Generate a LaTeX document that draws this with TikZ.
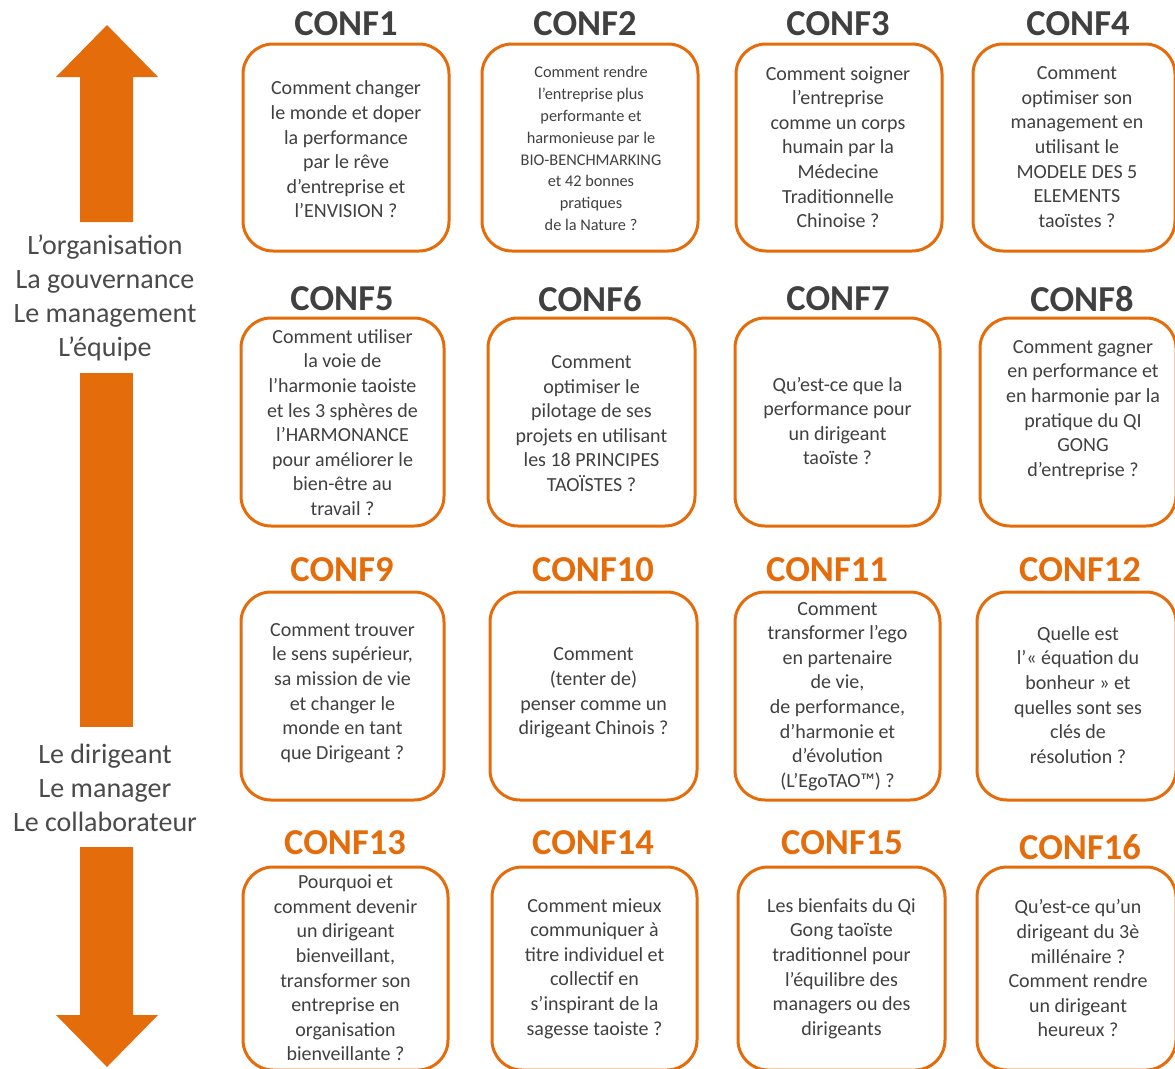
\documentclass[tikz,border=0pt]{standalone}
\usepackage{fontspec}
\setmainfont{Carlito}
\definecolor{orng}{HTML}{E46C0A}
\definecolor{txt}{HTML}{404040}
\definecolor{lbl}{HTML}{4A4A4A}
\tikzset{
  cbox/.style={draw=orng, line width=3pt, rounded corners=30pt, fill=white, inner sep=0pt},
  ctext/.style={text=txt, align=center, inner sep=0pt, font=\fontsize{20}{24.6}\selectfont},
  csmall/.style={text=txt, align=center, inner sep=0pt, font=\fontsize{16.3}{21.8}\selectfont},
  ctitle/.style={inner sep=0pt, font=\fontsize{36.5}{40}\selectfont\bfseries},
  dark/.style={text=txt},
  orangetitle/.style={text=orng},
  sidelabel/.style={text=lbl, align=center, inner sep=0pt, font=\fontsize{28}{34}\selectfont},
  arrowfill/.style={fill=orng, draw=none}
}
\begin{document}
\begin{tikzpicture}[x=1pt,y=1pt]
\useasboundingbox (0,0) rectangle (1175,-1068);
% side arrows
\fill[arrowfill] (107,-25) -- (158,-77) -- (133,-77) -- (133,-222) -- (80,-222) -- (80,-77) -- (56,-77) -- cycle;
\fill[arrowfill] (80,-373) rectangle (133,-727);
\fill[arrowfill] (80,-847) -- (133,-847) -- (133,-1015) -- (158,-1015) -- (107,-1067) -- (56,-1015) -- (80,-1015) -- cycle;
\node[sidelabel] (orgl) at (105,-298) {L’organisation\\La gouvernance\\Le management\\L’équipe};
\node[sidelabel] (dirl) at (105,-788) {Le dirigeant\\Le manager\\Le collaborateur};
% row 1
\node[ctitle,dark] (h1) at (346,-24) {CONF1};
\node[ctitle,dark] (h2) at (585,-24) {CONF2};
\node[ctitle,dark] (h3) at (838,-24) {CONF3};
\node[ctitle,dark] (h4) at (1078,-24) {CONF4};
\node[cbox, minimum width=206pt, minimum height=207pt] (b1) at (346,-147.5) {};
\node[cbox, minimum width=216pt, minimum height=207pt] (b2) at (590,-147.5) {};
\node[cbox, minimum width=206pt, minimum height=207pt] (b3) at (839,-147.5) {};
\node[cbox, minimum width=202pt, minimum height=207pt] (b4) at (1074,-147.5) {};
\node[ctext] (t1) at (346,-149.5) {Comment changer\\le monde et doper\\la performance\\par le rêve\\d’entreprise et\\l’ENVISION ?};
\node[csmall] (t2) at (591,-148.5) {Comment rendre\\l’entreprise plus\\performante et\\harmonieuse par le\\BIO-BENCHMARKING\\et 42 bonnes\\pratiques\\de la Nature ?};
\node[ctext] (t3) at (838,-147) {Comment soigner\\l’entreprise\\comme un corps\\humain par la\\Médecine\\Traditionnelle\\Chinoise ?};
\node[ctext] (t4) at (1077,-147) {Comment\\optimiser son\\management en\\utilisant le\\MODELE DES 5\\ELEMENTS\\taoïstes ?};
% row 2
\node[ctitle,dark] (h5) at (342,-299) {CONF5};
\node[ctitle,dark] (h6) at (590,-299) {CONF6};
\node[ctitle,dark] (h7) at (838,-299) {CONF7};
\node[ctitle,dark] (h8) at (1082,-299) {CONF8};
\node[cbox, minimum width=203pt, minimum height=208pt] (b5) at (342.5,-422) {};
\node[cbox, minimum width=207pt, minimum height=208pt] (b6) at (591.5,-422) {};
\node[cbox, minimum width=205pt, minimum height=208pt] (b7) at (837.5,-422) {};
\node[cbox, minimum width=196pt, minimum height=208pt] (b8) at (1078,-422) {};
\node[ctext] (t5) at (342.5,-422.5) {Comment utiliser\\la voie de\\l’harmonie taoiste\\et les 3 sphères de\\l’HARMONANCE\\pour améliorer le\\bien-être au\\travail ?};
\node[ctext] (t6) at (591.5,-423.5) {Comment\\optimiser le\\pilotage de ses\\projets en utilisant\\les 18 PRINCIPES\\TAOÏSTES ?};
\node[ctext] (t7) at (837.5,-421) {Qu’est-ce que la\\performance pour\\un dirigeant\\taoïste ?};
\node[ctext] (t8) at (1083,-410) {Comment gagner\\en performance et\\en harmonie par la\\pratique du QI\\GONG\\d’entreprise ?};
% row 3
\node[ctitle,orangetitle] (h9) at (342,-570) {CONF9};
\node[ctitle,orangetitle] (h10) at (593,-570) {CONF10};
\node[ctitle,orangetitle] (h11) at (827,-570) {CONF11};
\node[ctitle,orangetitle] (h12) at (1080,-570) {CONF12};
\node[cbox, minimum width=203pt, minimum height=208pt] (b9) at (342.5,-696) {};
\node[cbox, minimum width=207pt, minimum height=208pt] (b10) at (593.5,-696) {};
\node[cbox, minimum width=205pt, minimum height=208pt] (b11) at (837.5,-696) {};
\node[cbox, minimum width=199pt, minimum height=208pt] (b12) at (1076.5,-696) {};
\node[ctext] (t9) at (342.5,-693) {Comment trouver\\le sens supérieur,\\sa mission de vie\\et changer le\\monde en tant\\que Dirigeant ?};
\node[ctext] (t10) at (593.5,-693) {Comment\\(tenter de)\\penser comme un\\dirigeant Chinois ?};
\node[ctext] (t11) at (837.5,-696.5) {Comment\\transformer l’ego\\en partenaire\\de vie,\\de performance,\\d’harmonie et\\d’évolution\\(L’EgoTAO™) ?};
\node[ctext] (t12) at (1078,-695) {Quelle est\\l’« équation du\\bonheur » et\\quelles sont ses\\clés de\\résolution ?};
% row 4
\node[ctitle,orangetitle] (h13) at (345,-843) {CONF13};
\node[ctitle,orangetitle] (h14) at (593,-843) {CONF14};
\node[ctitle,orangetitle] (h15) at (842,-843) {CONF15};
\node[ctitle,orangetitle] (h16) at (1080,-847) {CONF16};
\node[cbox, minimum width=205pt, minimum height=203pt] (b13) at (345.5,-968.5) {};
\node[cbox, minimum width=205pt, minimum height=203pt] (b14) at (594.5,-968.5) {};
\node[cbox, minimum width=207pt, minimum height=203pt] (b15) at (841.5,-968.5) {};
\node[cbox, minimum width=199pt, minimum height=203pt] (b16) at (1076.5,-968.5) {};
\node[ctext] (t13) at (345.5,-968) {Pourquoi et\\comment devenir\\un dirigeant\\bienveillant,\\transformer son\\entreprise en\\organisation\\bienveillante ?};
\node[ctext] (t14) at (594.5,-968.5) {Comment mieux\\communiquer à\\titre individuel et\\collectif en\\s’inspirant de la\\sagesse taoiste ?};
\node[ctext] (t15) at (841.5,-968.5) {Les bienfaits du Qi\\Gong taoïste\\traditionnel pour\\l’équilibre des\\managers ou des\\dirigeants};
\node[ctext] (t16) at (1078,-968.5) {Qu’est-ce qu’un\\dirigeant du 3è\\millénaire ?\\Comment rendre\\un dirigeant\\heureux ?};
\end{tikzpicture}
\end{document}
